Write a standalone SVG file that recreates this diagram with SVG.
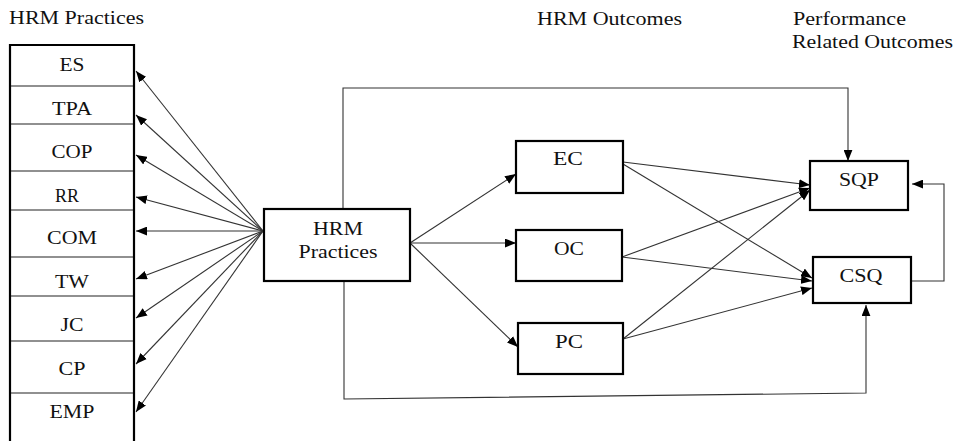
<svg xmlns="http://www.w3.org/2000/svg" width="957" height="441" viewBox="0 0 957 441">
<defs>
<marker id="ah" viewBox="0 0 10 8" refX="10" refY="4" markerWidth="11" markerHeight="9" markerUnits="userSpaceOnUse" orient="auto">
<path d="M0,0 L10,4 L0,8 z" fill="#000"/>
</marker>
<style>
text{font-family:"Liberation Serif","Times New Roman",serif;font-size:18.5px;fill:#111;text-anchor:middle}
.hd{text-anchor:start}
.box{fill:#fff;stroke:#000;stroke-width:2.2}
.div{stroke:#222;stroke-width:1.2}
.cn{fill:none;stroke:#333;stroke-width:1.1}
.ar{marker-end:url(#ah)}
</style>
</defs>
<rect width="957" height="441" fill="#fff"/>
<g id="headers">
<text class="hd" x="9" y="24" textLength="135" lengthAdjust="spacingAndGlyphs">HRM Practices</text>
<text class="hd" x="537" y="25" textLength="145" lengthAdjust="spacingAndGlyphs">HRM Outcomes</text>
<text class="hd" x="793" y="25" textLength="113" lengthAdjust="spacingAndGlyphs">Performance</text>
<text class="hd" x="792" y="48" textLength="161" lengthAdjust="spacingAndGlyphs">Related Outcomes</text>
</g>
<g id="practices-list">
<path class="box" d="M10,443 V45 H134 V443"/>
<line class="div" x1="11" y1="86" x2="133" y2="86"/>
<line class="div" x1="11" y1="124" x2="133" y2="124"/>
<line class="div" x1="11" y1="171" x2="133" y2="171"/>
<line class="div" x1="11" y1="210" x2="133" y2="210"/>
<line class="div" x1="11" y1="257" x2="133" y2="257"/>
<line class="div" x1="11" y1="296" x2="133" y2="296"/>
<line class="div" x1="11" y1="341" x2="133" y2="341"/>
<line class="div" x1="11" y1="393" x2="133" y2="393"/>
<g id="ES"><text x="72" y="71" textLength="25" lengthAdjust="spacingAndGlyphs">ES</text></g>
<g id="TPA"><text x="72" y="115" textLength="40" lengthAdjust="spacingAndGlyphs">TPA</text></g>
<g id="COP"><text x="72" y="158" textLength="41" lengthAdjust="spacingAndGlyphs">COP</text></g>
<g id="RR"><text x="67" y="202" textLength="24" lengthAdjust="spacingAndGlyphs">RR</text></g>
<g id="COM"><text x="72" y="244" textLength="50" lengthAdjust="spacingAndGlyphs">COM</text></g>
<g id="TW"><text x="72" y="288" textLength="34" lengthAdjust="spacingAndGlyphs">TW</text></g>
<g id="JC"><text x="72" y="331" textLength="23" lengthAdjust="spacingAndGlyphs">JC</text></g>
<g id="CP"><text x="72" y="375" textLength="27" lengthAdjust="spacingAndGlyphs">CP</text></g>
<g id="EMP"><text x="72" y="418" textLength="45" lengthAdjust="spacingAndGlyphs">EMP</text></g>
</g>
<g id="connectors">
<line class="cn ar" x1="263" y1="231" x2="136" y2="71"/>
<line class="cn ar" x1="263" y1="231" x2="136" y2="115"/>
<line class="cn ar" x1="263" y1="231" x2="136" y2="155"/>
<line class="cn ar" x1="263" y1="231" x2="136" y2="197"/>
<line class="cn ar" x1="263" y1="231" x2="136" y2="231"/>
<line class="cn ar" x1="263" y1="231" x2="136" y2="279"/>
<line class="cn ar" x1="263" y1="231" x2="136" y2="318"/>
<line class="cn ar" x1="263" y1="231" x2="136" y2="364"/>
<line class="cn ar" x1="263" y1="231" x2="136" y2="412"/>
<line class="cn ar" x1="410" y1="243" x2="516" y2="174"/>
<line class="cn ar" x1="410" y1="243" x2="516" y2="243"/>
<line class="cn ar" x1="410" y1="243" x2="518" y2="347"/>
<polyline class="cn ar" points="343,209 343,88 848,88 848,161"/>
<polyline class="cn ar" points="344,281 344,399 866,393 866,305"/>
<polyline class="cn ar" points="911,281 944,281 944,184 912,184"/>
<line class="cn ar" x1="623" y1="162" x2="810" y2="185"/>
<line class="cn ar" x1="623" y1="164" x2="812" y2="278"/>
<line class="cn ar" x1="622" y1="257" x2="810" y2="188"/>
<line class="cn ar" x1="622" y1="257" x2="812" y2="281"/>
<line class="cn ar" x1="623" y1="339" x2="810" y2="190"/>
<line class="cn ar" x1="623" y1="339" x2="812" y2="288"/>
</g>
<g id="HRM">
<rect class="box" x="264" y="209" width="146" height="72"/>
<text x="338" y="235" textLength="50" lengthAdjust="spacingAndGlyphs">HRM</text>
<text x="338" y="258" textLength="79" lengthAdjust="spacingAndGlyphs">Practices</text>
</g>
<g id="EC">
<rect class="box" x="516" y="141" width="107" height="52"/>
<text x="568" y="165" textLength="30" lengthAdjust="spacingAndGlyphs">EC</text>
</g>
<g id="OC">
<rect class="box" x="516" y="230" width="106" height="51"/>
<text x="569" y="255" textLength="30" lengthAdjust="spacingAndGlyphs">OC</text>
</g>
<g id="PC">
<rect class="box" x="518" y="323" width="105" height="51"/>
<text x="569" y="348" textLength="28" lengthAdjust="spacingAndGlyphs">PC</text>
</g>
<g id="SQP">
<rect class="box" x="810" y="161" width="98" height="49"/>
<text x="859" y="186" textLength="40" lengthAdjust="spacingAndGlyphs">SQP</text>
</g>
<g id="CSQ">
<rect class="box" x="813" y="257" width="98" height="46"/>
<text x="861" y="282" textLength="43" lengthAdjust="spacingAndGlyphs">CSQ</text>
</g>
</svg>
